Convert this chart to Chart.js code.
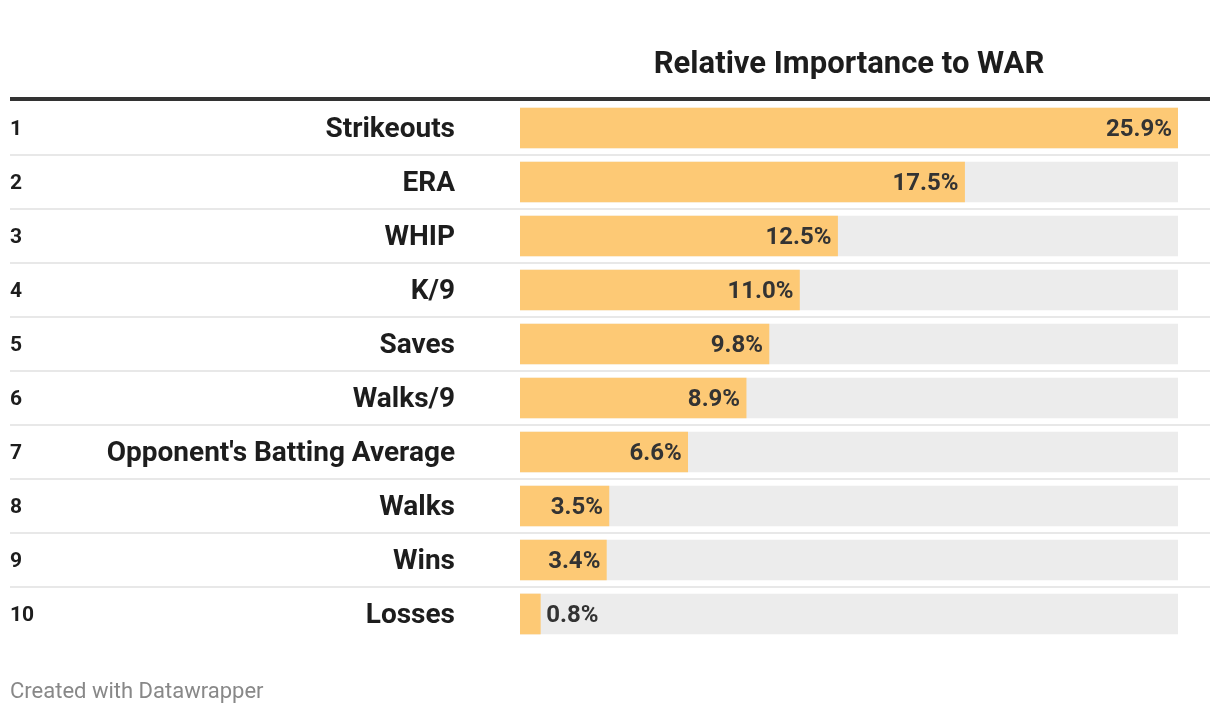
<!doctype html>
<html lang="en">
<head>
<meta charset="UTF-8" />
<title>Relative Importance to WAR</title>
<script src="https://cdn.jsdelivr.net/npm/chart.js"></script>
<style>
  html, body { margin: 0; padding: 0; background: #fff; }
  #wrap { width: 1220px; height: 716px; position: relative; }
</style>
</head>
<body>
<div id="wrap"><canvas id="chart" width="1220" height="716"></canvas></div>
<script>
const ranks = [1, 2, 3, 4, 5, 6, 7, 8, 9, 10];
const stats = ["Strikeouts", "ERA", "WHIP", "K/9", "Saves", "Walks/9",
  "Opponent's Batting Average", "Walks", "Wins", "Losses"];
const importance = [25.9, 17.5, 12.5, 11.0, 9.8, 8.9, 6.6, 3.5, 3.4, 0.8];
const maxValue = Math.max(...importance);
const trackValues = stats.map(() => maxValue);

const FONT = "Roboto, 'Noto Sans', sans-serif";

// draws header, row rules, rank + name columns, bar labels and the footer
const tablePlugin = {
  id: "tableBits",
  beforeDatasetsDraw(chart) {
    const ctx = chart.ctx;
    const y = chart.scales.y;
    ctx.save();
    // row separators
    ctx.fillStyle = "#e8e8e8";
    for (let i = 0; i < stats.length - 1; i++) {
      const mid = (y.getPixelForValue(i) + y.getPixelForValue(i + 1)) / 2;
      ctx.fillRect(10, Math.round(mid) - 1, 1200, 2);
    }
    // header rule
    const top = y.getPixelForValue(0) - (y.getPixelForValue(1) - y.getPixelForValue(0)) / 2;
    ctx.fillStyle = "#333";
    ctx.fillRect(10, Math.round(top) - 4, 1200, 4);
    ctx.restore();
  },
  afterDatasetsDraw(chart) {
    const ctx = chart.ctx;
    const x = chart.scales.x;
    const y = chart.scales.y;
    ctx.save();
    ctx.textBaseline = "middle";

    // title over the bar column
    ctx.fillStyle = "#1d1d1d";
    ctx.font = "bold 31px " + FONT;
    ctx.textAlign = "center";
    ctx.fillText("Relative Importance to WAR", (x.left + x.right) / 2, 65);

    stats.forEach((name, i) => {
      const cy = y.getPixelForValue(i) + 2;
      ctx.fillStyle = "#1d1d1d";
      ctx.textAlign = "left";
      ctx.font = "bold 21px " + FONT;
      ctx.fillText(String(ranks[i]), 10, cy);

      ctx.textAlign = "right";
      ctx.font = "bold 28px " + FONT;
      ctx.fillText(name, 455, cy);

      // value label
      const label = importance[i].toFixed(1) + "%";
      ctx.font = "bold 24px " + FONT;
      const w = ctx.measureText(label).width;
      const x0 = x.getPixelForValue(0);
      const x1 = x.getPixelForValue(importance[i]);
      ctx.fillStyle = "#333";
      if (x1 - x0 > w + 12) {
        ctx.textAlign = "right";
        ctx.fillText(label, x1 - 6, cy);
      } else {
        ctx.textAlign = "left";
        ctx.fillText(label, x1 + 6, cy);
      }
    });

    ctx.fillStyle = "#888";
    ctx.textAlign = "left";
    ctx.font = "22px " + FONT;
    ctx.fillText("Created with Datawrapper", 10, 692);
    ctx.restore();
  }
};

new Chart(document.getElementById("chart"), {
  type: "bar",
  data: {
    labels: stats,
    datasets: [
      {
        label: "Relative Importance to WAR",
        data: importance,
        backgroundColor: "#fdc975",
        barThickness: 40,
        grouped: false,
        order: 1
      },
      {
        label: "track",
        data: trackValues,
        backgroundColor: "#ececec",
        barThickness: 40,
        grouped: false,
        order: 2
      }
    ]
  },
  options: {
    indexAxis: "y",
    responsive: false,
    animation: false,
    devicePixelRatio: 1,
    layout: { padding: { left: 520, right: 42, top: 101, bottom: 75 } },
    scales: {
      x: { display: false, min: 0, max: maxValue },
      y: { display: false, offset: true }
    },
    plugins: {
      legend: { display: false },
      tooltip: { enabled: false }
    }
  },
  plugins: [tablePlugin]
});
</script>
</body>
</html>
